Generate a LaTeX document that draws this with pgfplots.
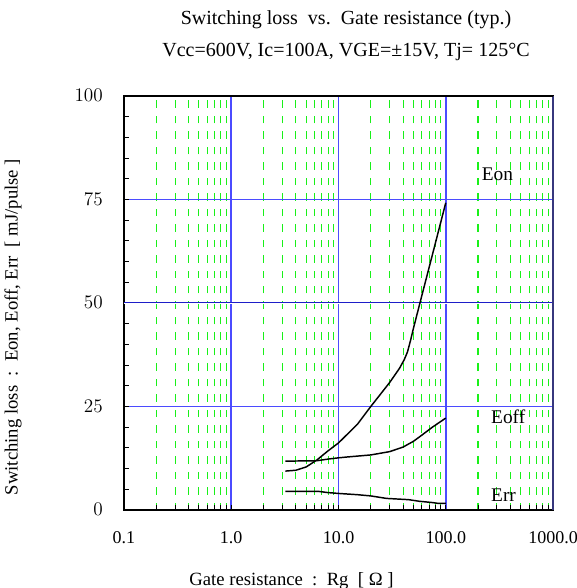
\documentclass[border=0pt]{standalone}
\usepackage{pgfplots}
\pgfplotsset{compat=1.18}
\usepackage{fontspec}
\setmainfont{Liberation Serif}
\definecolor{gridgreen}{RGB}{25,240,25}
\definecolor{gridblue}{RGB}{75,75,255}
\definecolor{darkblue}{RGB}{30,30,200}
\definecolor{navyline}{RGB}{55,55,125}
\begin{document}
\begin{tikzpicture}
\path[use as bounding box] (-93pt,-58.5pt) rectangle (339.75pt,382.5pt);
\begin{axis}[
  at={(0pt,0pt)}, anchor=south west,
  scale only axis, width=321.75pt, height=310.5pt,
  xmode=log, log basis x=10,
  xmin=0.1, xmax=1000, ymin=0, ymax=100,
  xtick={0.1,1,10,100,1000},
  xticklabels={0.1,1.0,10.0,100.0,1000.0},
  minor xtick={0.2,0.3,0.4,0.5,0.6,0.7,0.8,0.9,2,3,4,5,6,7,8,9,20,30,40,50,60,70,80,90,200,300,400,500,600,700,800,900},
  ytick={0,25,50,75,100},
  minor ytick={5,10,15,20,30,35,40,45,55,60,65,70,80,85,90,95},
  tick pos=left, tick align=inside,
  major tick length=3.75pt, minor tick length=3.75pt,
  xmajorgrids=true, xminorgrids=true, ymajorgrids=true,
  minor x grid style={gridgreen, line width=0.8pt, dash pattern=on 5.6pt off 6pt},
  major grid style={gridblue, line width=1.2pt},
  axis line style={black, line width=1.1pt},
  tick style={black, line width=0.7pt},
  clip mode=individual,
  xticklabel style={font=\fontsize{13.5pt}{16pt}\selectfont, anchor=base, inner sep=0pt, yshift=-24.75pt},
  yticklabel style={font=\fontsize{13.5pt}{16pt}\selectfont, anchor=base east, inner sep=0pt, xshift=-15.75pt, yshift=-4.5pt},
]
\draw[white, line width=1.3pt] (axis cs:0.1,50) -- (axis cs:1000,50);
\draw[darkblue, line width=0.75pt] (axis cs:0.1,50) -- (axis cs:1000,50);
\draw[navyline, line width=1.6pt] (rel axis cs:1,0) -- (rel axis cs:1,1);
\draw[black, line width=1.1pt] (rel axis cs:0,1) -- (rel axis cs:1,1);

% Eon
\addplot[black, line width=1.1pt] coordinates {
 (3.2,9.4) (4,9.6) (5,10.4) (6.3,12.1) (8,14.3) (10,16.2) (15,20.7) (20,25)
 (30,30.8) (37,34.2) (41,36.3) (44,38.2) (47,41) (50,43.9) (60,51.9) (75,61.6) (100,74.2)
};
% Eoff
\addplot[black, line width=1.1pt] coordinates {
 (3.2,11.8) (6.3,11.9) (8,12.3) (10,12.6) (12,12.8) (20,13.3) (30,14.1)
 (40,15.2) (50,16.6) (60,18.1) (75,20) (100,22.2)
};
% Err
\addplot[black, line width=1.1pt] coordinates {
 (3.2,4.5) (6.5,4.5) (8,4.2) (10,4.0) (15,3.7) (20,3.4) (28,2.8)
 (45,2.5) (57,2.1) (75,1.8) (85,1.6) (100,1.6)
};

\node[anchor=base west, inner sep=0pt, font=\fontsize{14.5pt}{17pt}\selectfont] at (axis cs:216,79.5) {Eon};
\node[anchor=base west, inner sep=0pt, font=\fontsize{14.5pt}{17pt}\selectfont] at (axis cs:264,20.8) {Eoff};
\node[anchor=base west, inner sep=0pt, font=\fontsize{14.5pt}{17pt}\selectfont] at (axis cs:264,2.0) {Err};
\end{axis}

\node[anchor=base, inner sep=0pt, font=\fontsize{15pt}{18pt}\selectfont] at (166.5pt,363.75pt) {Switching loss\ \ vs.\ \ Gate resistance (typ.)};
\node[anchor=base, inner sep=0pt, font=\fontsize{15pt}{18pt}\selectfont] at (166.5pt,339.75pt) {Vcc=600V, Ic=100A, VGE=±15V, Tj= 125°C};
\node[anchor=base, inner sep=0pt, font=\fontsize{14pt}{17pt}\selectfont] at (125.6pt,-56.25pt) {Gate resistance\ \ :\ \ Rg\ \ [ Ω ]};
\node[rotate=90, anchor=center, inner sep=0pt, font=\fontsize{14pt}{17pt}\selectfont] at (-83.25pt,137.25pt) {Switching loss\ \ :\ \ Eon, Eoff, Err\ \ [ mJ/pulse ]};
\end{tikzpicture}
\end{document}
